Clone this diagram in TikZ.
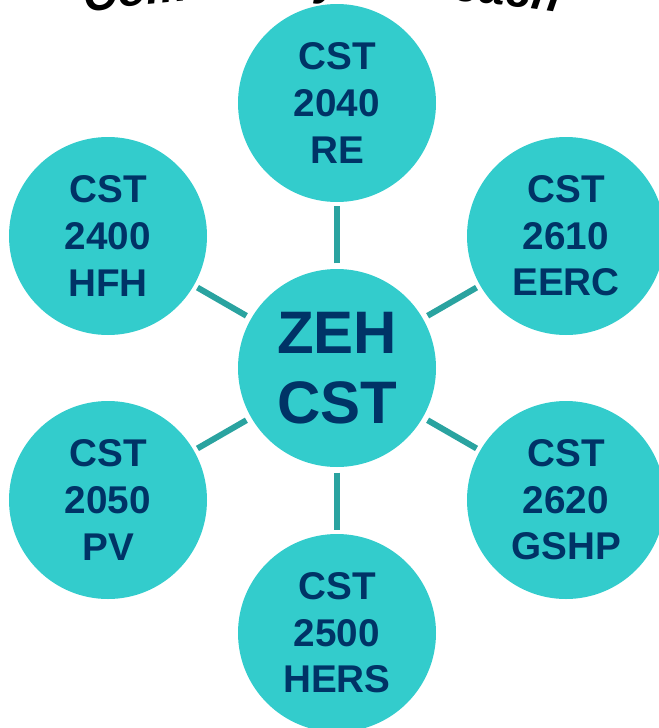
\documentclass[tikz,border=0pt]{standalone}
\usepackage{fontspec}
\setmainfont{Liberation Sans}
\usetikzlibrary{decorations.text}
\definecolor{teal1}{HTML}{33CCCC}
\definecolor{navy1}{HTML}{003366}
\definecolor{conn1}{HTML}{2AA3A0}
\begin{document}
\begin{tikzpicture}[x=0.75pt,y=-0.75pt,
  bub/.style={circle, fill=teal1, minimum size=148.5pt, inner sep=0pt, align=center, text=navy1, font=\bfseries\fontsize{29}{35}\selectfont},
  hub/.style={bub, font=\bfseries\fontsize{45}{52}\selectfont},
  conn/.style={draw=conn1, line width=4.5pt, shorten <=4pt, shorten >=3pt}]
\useasboundingbox (0,0) rectangle (659,728);
\clip (0,0) rectangle (659,728);
\path[decorate, decoration={text along path, text align=center,
  text={|\bfseries\itshape\fontsize{35}{40}\selectfont|Community Outreach}}]
  (0,27.5) .. controls (212.6,-15.9) and (431.4,-15.9) .. (644,27.5);
\node[hub] (c) at (337,368) {ZEH\\CST};
\node[bub] (t) at (337,103) {CST\\2040\\RE};
\node[bub] (ur) at (566,236) {CST\\2610\\EERC};
\node[bub] (lr) at (566,500) {CST\\2620\\GSHP};
\node[bub] (b) at (337,633) {CST\\2500\\HERS};
\node[bub] (ll) at (108,500) {CST\\2050\\PV};
\node[bub] (ul) at (108,236) {CST\\2400\\HFH};
\draw[conn] (c) -- (t);
\draw[conn] (c) -- (ur);
\draw[conn] (c) -- (lr);
\draw[conn] (c) -- (b);
\draw[conn] (c) -- (ll);
\draw[conn] (c) -- (ul);
\end{tikzpicture}
\end{document}
